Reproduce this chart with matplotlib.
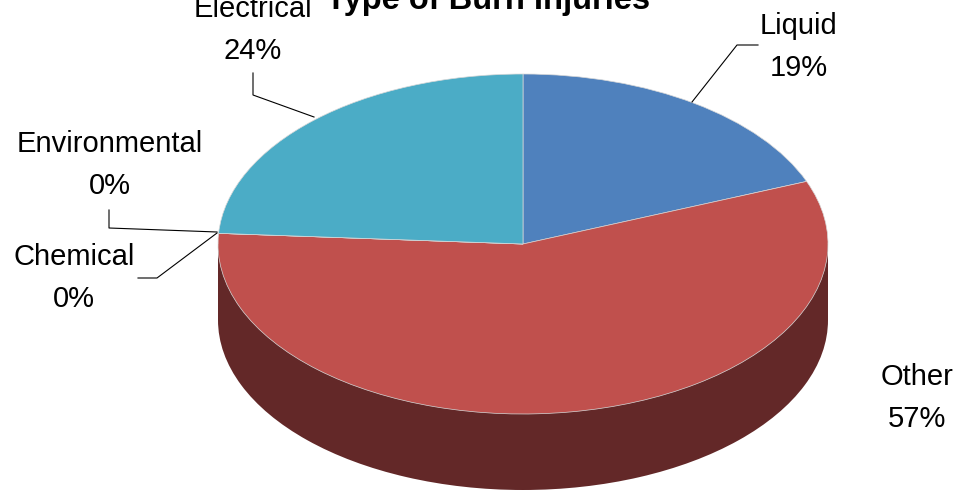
import matplotlib.pyplot as plt
from matplotlib.patches import Rectangle

plt.rcParams["font.family"] = ["Liberation Sans", "DejaVu Sans"]

categories = ["Liquid", "Other", "Chemical", "Environmental", "Electrical"]
values = [19, 57, 0, 0, 24]
colors = ["#4f81bd", "#c0504d", "#9bbb59", "#8064a2", "#4bacc6"]
side_color = "#632828"

W, H = 958, 491
cx, cy, rx, ry = 523, 244, 305, 170
depth = 76


# pixel position -> data position (pie radius is 1 in both directions)
def px(x, y):
    return (x - cx) / rx, (cy - y) / ry


fig = plt.figure(figsize=(W / 100, H / 100), dpi=100)
ax = fig.add_axes([0, 0, 1, 1])

# side of the cake, a dark pie lower down plus the band joining it to the top
d = depth / ry
ax.pie([1], colors=[side_color], center=(0, -d), radius=1)
ax.add_patch(Rectangle((-1, -d), 2, d, color=side_color, lw=0))

ax.pie(values, colors=colors, startangle=90, counterclock=False, radius=1,
       wedgeprops={"linewidth": 0.5, "edgecolor": "#d8d8d8"})

ax.set_aspect("auto")
ax.set_xlim(-cx / rx, (W - cx) / rx)
ax.set_ylim((cy - H) / ry, cy / ry)
ax.axis("off")

font = 21
label_pos = [(799, 47), (917, 398), (74, 278), (110, 165), (253, 30)]
for (x, y), name, val in zip(label_pos, categories, values):
    ax.text(*px(x, y), f"{name}\n{val}%", ha="center", va="center",
            fontsize=font, color="black", linespacing=1.6)

ax.text(*px(488, 0), "Type of Burn Injuries", ha="center", va="center",
        fontsize=23.5, fontweight="bold", color="black")

# leader lines
leaders = [
    [(692, 102), (737, 45), (758, 45)],
    [(217, 233), (157, 278), (138, 278)],
    [(217, 232), (109, 228), (109, 210)],
    [(314, 117), (253, 95), (253, 73)],
]
for line in leaders:
    pts = [px(x, y) for x, y in line]
    ax.plot([p[0] for p in pts], [p[1] for p in pts], color="black", lw=0.8)

fig.savefig("out.png", dpi=100, facecolor="white")
